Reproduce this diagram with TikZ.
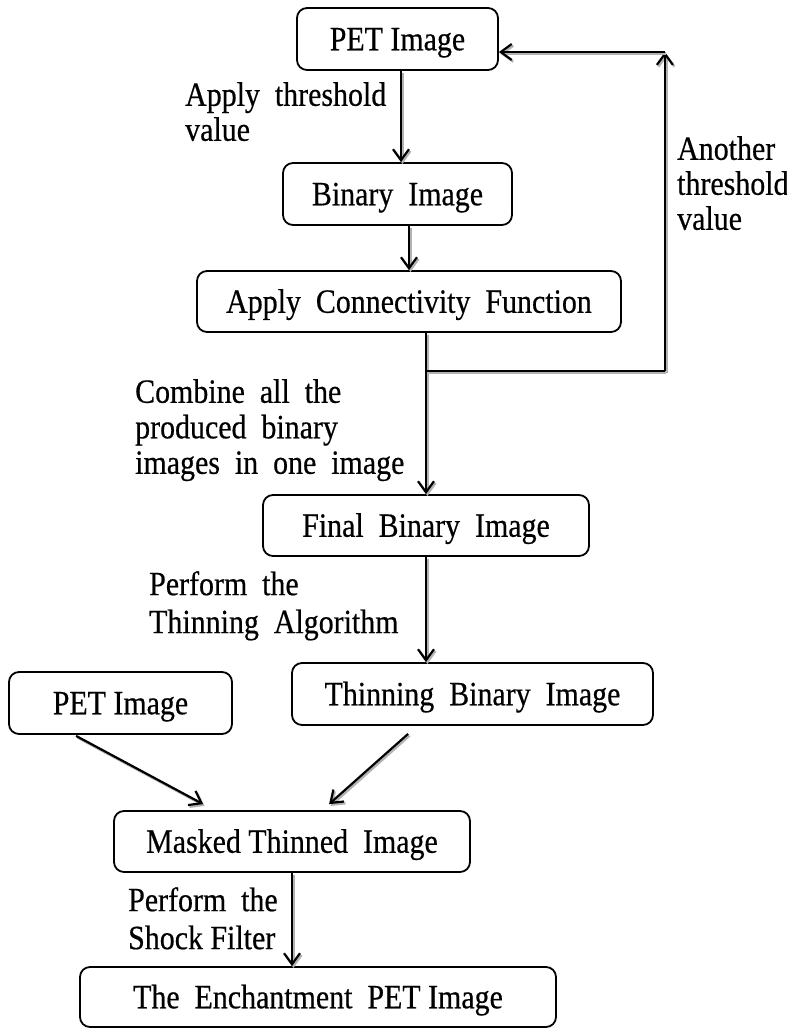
\documentclass[tikz,border=0pt]{standalone}
\usepackage{fontspec}
\setmainfont{Liberation Serif}[FakeStretch=0.88,FakeBold=0.5]
\usetikzlibrary{arrows.meta,calc}
\begin{document}
\begin{tikzpicture}[x=1pt,y=-1pt,
  box/.style={draw, line width=1.8pt, rounded corners=10pt, inner sep=0pt,
    text height=22.5pt, text depth=0pt, font=\fontsize{34}{40}\selectfont},
  lbl/.style={anchor=north west, inner sep=0pt, align=left},
  tip/.style={-{Straight Barb[length=11pt,width=16pt,line width=2.2pt]}},
  shade/.style={preaction={draw=gray!60, line width=2.2pt, #1,
    transform canvas={shift={(1.5,1.8)}}}},
  flow/.style={line width=2.2pt, tip, shade=tip},
  link/.style={line width=2.2pt, shade=-}
]
\useasboundingbox (0,0) rectangle (787,1028);

% process boxes
\node[box, minimum width=201pt, minimum height=62pt] (pet1) at (397.5,39) {PET Image};
\node[box, minimum width=229pt, minimum height=62pt] (bin) at (397.5,194) {Binary~ Image};
\node[box, minimum width=424pt, minimum height=61pt] (conn) at (409,301.5) {Apply~ Connectivity~ Function};
\node[box, minimum width=326pt, minimum height=61pt] (final) at (426,525.5) {Final~ Binary~ Image};
\node[box, minimum width=361pt, minimum height=62pt] (thin) at (472.5,694) {Thinning~ Binary~ Image};
\node[box, minimum width=223pt, minimum height=62pt] (pet2) at (120.5,703) {PET Image};
\node[box, minimum width=356pt, minimum height=61pt] (mask) at (292,841.5) {Masked Thinned~ Image};
\node[box, minimum width=476pt, minimum height=60pt] (ench) at (318,997) {The~ Enchantment~ PET Image};

% step labels
\node[lbl, font=\fontsize{34}{35}\selectfont] (thr) at (185,82) {Apply~ threshold\\value};
\node[lbl, font=\fontsize{34}{35}\selectfont] (ano) at (677,136) {Another\\threshold\\value};
\node[lbl, font=\fontsize{34}{35.5}\selectfont] (comb) at (135,379) {Combine~ all~ the\\produced~ binary\\images~ in~ one~ image};
\node[lbl, font=\fontsize{34}{38}\selectfont] (thl) at (149,571) {Perform~ the\\Thinning~ Algorithm};
\node[lbl, font=\fontsize{34}{38}\selectfont] (shk) at (128,887) {Perform~ the\\Shock Filter};

% connectors
\draw[flow] ([xshift=3.5pt]pet1.south) -- ([xshift=3.5pt]pet1.south |- bin.north);
\draw[flow] ([xshift=11.5pt]bin.south) -- ([xshift=11.5pt]bin.south |- conn.north);
\draw[flow] (final.north |- conn.south) -- (final.north);
\draw[flow] (final.south) -- (final.south |- thin.north);
\draw[flow] ($(pet2.south west)+(68,1)$) -- ($(mask.north west)+(90,-6)$);
\draw[flow] ($(thin.south west)+(117,8)$) -- ($(mask.north west)+(216,-6)$);
\draw[flow] (mask.south) -- (mask.south |- ench.north);

% feedback loop for another threshold
\coordinate (junc) at ($(final.north |- conn.south)+(0,38)$);
\coordinate (corner) at ($(pet1.east)+(166,13)$);
\draw[link] (junc) -- (junc -| corner);
\draw[flow] (junc -| corner) -- (corner);
\draw[flow] (corner) -- (corner -| pet1.east);
\end{tikzpicture}
\end{document}
